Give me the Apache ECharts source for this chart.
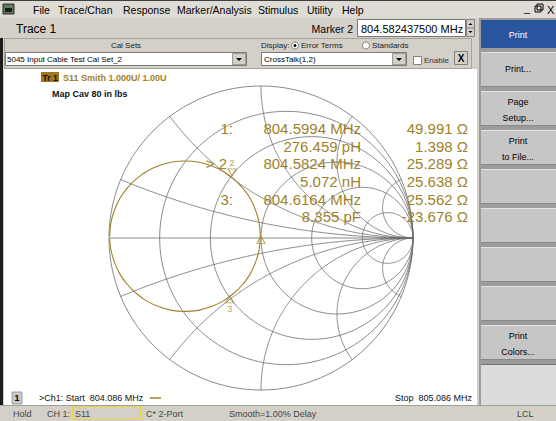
<!DOCTYPE html>
<html><head><meta charset="utf-8">
<script src="https://cdn.jsdelivr.net/npm/echarts@6/dist/echarts.min.js"></script>
<style>html,body{margin:0;padding:0;background:#d4d0c8;overflow:hidden}#c{width:556px;height:421px;}</style>
</head><body><div id="c"></div>
<script>
// ---------------- data ----------------
const resistanceCircles = [0, 0.2, 0.5, 1, 2, 5];
const reactanceArcs = [0.2, 0.5, 1, 2, 5, -0.2, -0.5, -1, -2, -5];
const traceRe = [-0.995,-0.988,-0.965,-0.929,-0.879,-0.818,-0.748,-0.669,-0.586,-0.500,-0.414,-0.331,-0.253,-0.182,-0.121,-0.071,-0.035,-0.012,-0.005,-0.012,-0.035,-0.071,-0.121,-0.182,-0.253,-0.331,-0.414,-0.500,-0.586,-0.669,-0.748,-0.818,-0.879,-0.929,-0.965,-0.988,-0.995];
const traceIm = [0.012,0.098,0.181,0.260,0.330,0.391,0.441,0.477,0.500,0.507,0.500,0.477,0.441,0.391,0.330,0.260,0.181,0.098,0.012,-0.074,-0.157,-0.236,-0.306,-0.367,-0.417,-0.453,-0.476,-0.483,-0.476,-0.453,-0.417,-0.367,-0.306,-0.236,-0.157,-0.074,-0.005];
const markerNames = ['1', '2', '3'];
const markerLabels = ['1:', '> 2', '3:'];
const markerFreqs = ['804.5994 MHz', '804.5824 MHz', '804.6164 MHz'];
const markerR = [49.991, 25.289, 25.562];
const markerX = [1.398, 25.638, -23.676];
const markerEquiv = ['276.459 pH', '5.072 nH', '8.355 pF'];
const Z0 = 50;
const menuItems = ['File', 'Trace/Chan', 'Response', 'Marker/Analysis', 'Stimulus', 'Utility', 'Help'];
const panelButtons = [['Print...'], ['Page', 'Setup...'], ['Print', 'to File...'], [], [], [], [], ['Print', 'Colors...']];
const statusItems = ['Hold', 'CH 1:', 'S11', 'C* 2-Port', 'Smooth=1.00% Delay', 'LCL'];

// ---------------- layout / style ----------------
const FONT = '"Liberation Sans", Arial, sans-serif';
const GOLD = '#a0822a';
const GRIDC = '#6c6c6c';
const menuX = [33, 58, 123, 177, 258, 307, 342];
const statusX = [13, 47, 75, 146, 229, 517];

function gamma(r, x) {
  const dr = r + 1, nr = r - 1, den = dr * dr + x * x;
  return [(nr * dr + x * x) / den, 2 * x / den];
}
function lineSeries(pts) {
  return { type: 'line', data: pts, showSymbol: false, silent: true, animation: false, clip: false,
    lineStyle: { color: GRIDC, width: 0.8 }, z: 2 };
}
const series = [];
// real axis
series.push(lineSeries([[-1, 0], [1, 0]]));
resistanceCircles.forEach(r => {
  const c = r / (1 + r), rad = 1 / (1 + r), pts = [];
  for (let k = 0; k <= 200; k++) { const a = 2 * Math.PI * k / 200; pts.push([c + rad * Math.cos(a), rad * Math.sin(a)]); }
  series.push(lineSeries(pts));
});
reactanceArcs.forEach(x => {
  const pts = [];
  for (let k = 0; k < 160; k++) { const t = (k / 160) * Math.PI / 2; pts.push(gamma(Math.tan(t), x)); }
  pts.push([1, 0]);
  series.push(lineSeries(pts));
});
// trace
series.push({ type: 'line', data: traceRe.map((v, i) => [v, traceIm[i]]), smooth: 0.4, showSymbol: false,
  silent: true, animation: false, lineStyle: { color: GOLD, width: 1.1 }, z: 4 });
// markers
const markerG = markerR.map((R, i) => gamma(R / Z0, markerX[i] / Z0));
markerG.forEach((g, i) => {
  const down = i === 1;
  series.push({ type: 'scatter', data: [g], symbol: 'triangle', symbolSize: [8, 7],
    symbolRotate: down ? 180 : 0, symbolOffset: [0, down ? -4 : 4], animation: false, silent: true, z: 5,
    itemStyle: { color: 'rgba(255,255,255,0)', borderColor: GOLD, borderWidth: 1 },
    label: { show: i !== 0, formatter: markerNames[i], position: down ? 'top' : 'bottom', distance: 1,
      color: GOLD, fontSize: 9, fontFamily: FONT } });
});

// ---------------- graphic chrome ----------------
const G = [];
function rect(x, y, w, h, fill, stroke, z, lw) {
  G.push({ type: 'rect', shape: { x, y, width: w, height: h }, z: z || 0, silent: true,
    style: { fill: fill || 'none', stroke: stroke || null, lineWidth: lw || 1 } });
}
function line(x1, y1, x2, y2, c, w, z) {
  G.push({ type: 'line', shape: { x1, y1, x2, y2 }, z: z || 1, silent: true, style: { stroke: c, lineWidth: w || 1 } });
}
function txt(x, y, s, size, fill, align, weight, z) {
  G.push({ type: 'text', z: z || 20, silent: true,
    style: { text: s, x, y, font: (weight || 'normal') + ' ' + size + 'px ' + FONT, fill: fill || '#000',
      textAlign: align || 'left', align: align || 'left', textVerticalAlign: 'middle', verticalAlign: 'middle' } });
}
function poly(points, fill, z) {
  G.push({ type: 'polygon', shape: { points }, z: z || 3, silent: true, style: { fill } });
}
// backgrounds
rect(0, 0, 556, 421, '#d4d0c8', null, -10);
rect(0, 0, 556, 18, '#dfdcd6', null, -9);
line(0, 0.5, 556, 0.5, '#404040', 1, -8);
// menu
rect(3, 4, 11, 10, '#5d7d5d', '#2a2a2a', 1);
rect(5, 8, 7, 4, '#1a1a1a', null, 2);
menuItems.forEach((m, i) => txt(menuX[i], 10, m, 10.5, '#000'));
txt(524, 8, '_', 11, '#000');
rect(535, 6, 6, 6, null, '#000', 2); rect(537, 4, 6, 6, null, '#000', 2);
txt(547, 9.5, 'X', 11, '#000');
// row 2
txt(16, 28.5, 'Trace 1', 12, '#000');
txt(353, 28.5, 'Marker 2', 10.5, '#000', 'right');
rect(357.5, 19.5, 108, 17, '#fff', '#7a7a7a', 1);
txt(361, 28.5, '804.582437500 MHz', 11, '#000');
rect(466.5, 19.5, 8, 17, '#d4d0c8', '#808080', 1);
line(467, 28, 474, 28, '#808080', 1, 2);
poly([[468.5, 25], [472.5, 25], [470.5, 23]], '#000');
poly([[468.5, 31], [472.5, 31], [470.5, 33]], '#000');
// cal set panel
rect(4.5, 38.5, 467, 30, '#d4d0c8', '#a6a39c', 0);
txt(126, 45.5, 'Cal Sets', 8, '#222', 'center');
rect(5.5, 52.5, 241, 13, '#fff', '#7a7a7a', 1);
txt(7, 59, '5045 Input Cable Test Cal Set_2', 8, '#000');
rect(232.5, 53.5, 13, 11, '#d4d0c8', '#9a9a9a', 2);
poly([[236, 58], [242, 58], [239, 61]], '#000');
txt(261, 45.5, 'Display:', 8, '#222');
G.push({ type: 'circle', shape: { cx: 295, cy: 45.5, r: 3.5 }, z: 2, style: { fill: '#fff', stroke: '#808080' } });
G.push({ type: 'circle', shape: { cx: 295, cy: 45.5, r: 1.5 }, z: 3, style: { fill: '#000' } });
txt(301, 45.5, 'Error Terms', 8, '#222');
G.push({ type: 'circle', shape: { cx: 366, cy: 45.5, r: 3.5 }, z: 2, style: { fill: '#fff', stroke: '#808080' } });
txt(372, 45.5, 'Standards', 8, '#222');
rect(261.5, 52.5, 145, 13, '#fff', '#7a7a7a', 1);
txt(264, 59, 'CrossTalk(1,2)', 8, '#000');
rect(392.5, 53.5, 13, 11, '#d4d0c8', '#9a9a9a', 2);
poly([[396, 58], [402, 58], [399, 61]], '#000');
rect(413.5, 56.5, 8, 8, '#fff', '#808080', 1);
txt(424, 60.5, 'Enable', 8, '#333');
rect(454.5, 51.5, 13, 13, '#d4d0c8', '#808080', 1);
txt(461, 58, 'X', 10, '#000', 'center', 'bold');
// chart area
rect(4, 69, 473, 336, '#ffffff', null, -5);
rect(0, 38, 3, 367, '#1c1c1c', null, 1);
// right panel
rect(479, 18, 77, 387, '#9c9c9c', null, -4);
rect(481, 20, 75, 28, '#2a56a0', null, 1);
txt(518, 34.5, 'Print', 9, '#fff', 'center');
panelButtons.forEach((lab, i) => {
  const y = 52 + 39 * i;
  rect(481, y, 75, 35, '#c6c6c6', null, 1);
  line(481, y + 0.5, 556, y + 0.5, '#e4e4e4', 1, 2);
  line(481, y + 34.5, 556, y + 34.5, '#8a8a8a', 1, 2);
  if (lab.length === 1) txt(518, y + 17, lab[0], 9, '#000', 'center');
  if (lab.length === 2) { txt(518, y + 10.5, lab[0], 9, '#000', 'center'); txt(518, y + 26.5, lab[1], 9, '#000', 'center'); }
});
rect(481, 364, 75, 41, '#dcdcdc', null, 1);
line(481, 364.5, 556, 364.5, '#707070', 1, 2);
// status bar
line(0, 405.5, 556, 405.5, '#a0a0a0', 1, 2);
rect(72.5, 406.5, 68, 13, null, '#e8d43c', 2);
statusItems.forEach((s, i) => txt(statusX[i], 413.5, s, 9, '#444'));
// chart header texts
rect(41, 72, 18, 10, '#a3741e', null, 3);
txt(42.5, 77.5, 'Tr 1', 8.5, '#1a1200', 'left', 'bold');
txt(63, 77.5, 'S11 Smith 1.000U/ 1.00U', 9, GOLD, 'left', 'bold');
txt(52, 94, 'Map Cav 80 in lbs', 9, '#111', 'left', 'bold');
// marker readout
markerR.forEach((R, i) => {
  const y1 = 128.5 + 35.3 * i, y2 = y1 + 17.6;
  txt(i === 1 ? 227 : 233, y1, markerLabels[i], 15, GOLD, 'right');
  txt(361, y1, markerFreqs[i], 15, GOLD, 'right');
  txt(468, y1, R.toFixed(3) + ' \u03A9', 15, GOLD, 'right');
  txt(361, y2, markerEquiv[i], 15, GOLD, 'right');
  txt(468, y2, markerX[i].toFixed(3) + ' \u03A9', 15, GOLD, 'right');
});
// bottom of chart
rect(12, 392, 10, 12, '#c8c8c8', '#a0a0a0', 2);
txt(17, 398, '1', 9, '#000', 'center', 'bold');
txt(39, 398, '>Ch1: Start  804.086 MHz', 9, '#111');
line(150, 398, 161, 398, GOLD, 1.5, 3);
txt(472, 398, 'Stop  805.086 MHz', 9, '#111', 'right');

const chart = echarts.init(document.getElementById('c'), null, { renderer: 'svg', width: 556, height: 421 });
chart.setOption({
  animation: false,
  backgroundColor: '#d4d0c8',
  grid: { left: 109, top: 86, width: 304, height: 304 },
  xAxis: { type: 'value', min: -1, max: 1, show: false },
  yAxis: { type: 'value', min: -1, max: 1, show: false },
  graphic: { elements: G },
  series: series
});
</script></body></html>
